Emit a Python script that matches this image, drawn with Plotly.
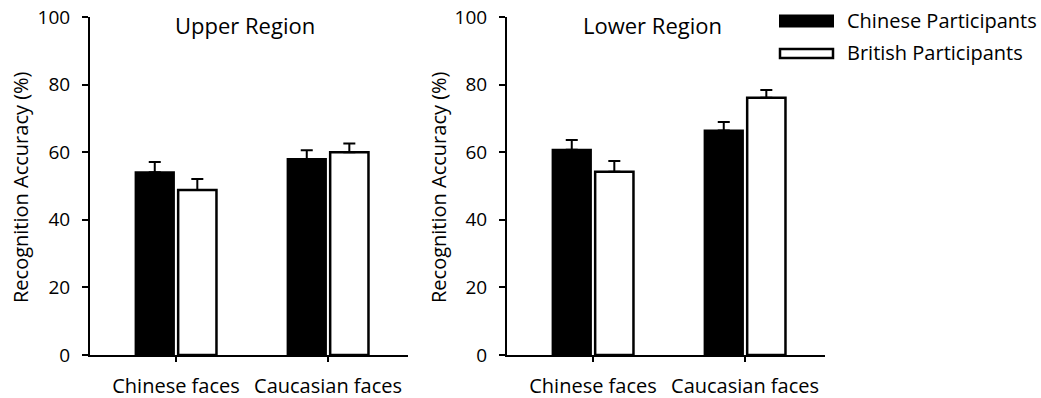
import plotly.graph_objects as go

categories = ["Chinese faces", "Caucasian faces"]
series_names = ["Chinese Participants", "British Participants"]

upper_chinese = [54.1, 58.0]
upper_chinese_err = [3.0, 2.6]
upper_british = [48.8, 60.0]
upper_british_err = [3.3, 2.6]

lower_chinese = [60.7, 66.4]
lower_chinese_err = [2.9, 2.5]
lower_british = [54.2, 76.1]
lower_british_err = [3.2, 2.3]

panel_titles = ["Upper Region", "Lower Region"]
y_title = "Recognition Accuracy (%)"
y_ticks = [0, 20, 40, 60, 80, 100]

W, H = 1041, 398
FONT = "Open Sans"
FS_YTICK = 19
FS_XTICK = 20
FS_TITLE = 22
FS_YT = 20
FS_LEG = 20

fig = go.Figure()

def px_x(v):
    return v / W

def px_y(v):
    return 1 - v / H

panels = [
    (upper_chinese, upper_chinese_err, upper_british, upper_british_err, "x", "y"),
    (lower_chinese, lower_chinese_err, lower_british, lower_british_err, "x2", "y2"),
]

for cv, ce, bv, be, xa, ya in panels:
    fig.add_trace(go.Bar(
        x=categories, y=cv, name=series_names[0], xaxis=xa, yaxis=ya,
        marker=dict(color="black", line=dict(color="black", width=2)),
        error_y=dict(type="data", symmetric=False, array=ce, arrayminus=[0] * len(ce),
                     color="black", thickness=2, width=6),
        showlegend=False,
    ))
    fig.add_trace(go.Bar(
        x=categories, y=bv, name=series_names[1], xaxis=xa, yaxis=ya,
        marker=dict(color="white", line=dict(color="black", width=2.5)),
        error_y=dict(type="data", symmetric=False, array=be, arrayminus=[0] * len(be),
                     color="black", thickness=2, width=6),
        showlegend=False,
    ))

x1_dom = [px_x(90), px_x(408)]
x2_dom = [px_x(507), px_x(825)]
y_dom = [px_y(355), px_y(17)]

common_x = dict(
    showline=True, linecolor="black", linewidth=2,
    ticks="outside", ticklen=5, tickwidth=2, tickcolor="black",
    showgrid=False, zeroline=False, automargin=False,
    tickfont=dict(family=FONT, size=FS_XTICK, color="black"),
    ticklabelstandoff=7,
    range=[-0.566, 1.526],
)
common_y = dict(
    showline=True, linecolor="black", linewidth=2,
    ticks="outside", ticklen=6, tickwidth=2, tickcolor="black",
    showgrid=False, zeroline=False, automargin=False,
    range=[0, 100], tickvals=y_ticks,
    tickfont=dict(family=FONT, size=FS_YTICK, color="black"),
    ticklabelstandoff=8,
)

fig.update_layout(
    width=W, height=H,
    margin=dict(l=0, r=0, t=0, b=0),
    paper_bgcolor="white", plot_bgcolor="white",
    barmode="group", bargap=0.44, bargroupgap=0.1,
    showlegend=False,
    xaxis=dict(domain=x1_dom, anchor="y", **common_x),
    yaxis=dict(domain=y_dom, anchor="x", **common_y),
    xaxis2=dict(domain=x2_dom, anchor="y2", **common_x),
    yaxis2=dict(domain=y_dom, anchor="x2", **common_y),
    font=dict(family=FONT, size=FS_YTICK, color="black"),
)

annotations = [
    dict(text=panel_titles[0], x=px_x(245), y=px_y(25), xref="paper", yref="paper",
         showarrow=False, xanchor="center", yanchor="middle", font=dict(family=FONT, size=FS_TITLE)),
    dict(text=panel_titles[1], x=px_x(652), y=px_y(25), xref="paper", yref="paper",
         showarrow=False, xanchor="center", yanchor="middle", font=dict(family=FONT, size=FS_TITLE)),
    dict(text=y_title, x=px_x(20), y=px_y(187), xref="paper", yref="paper", textangle=-90,
         showarrow=False, xanchor="center", yanchor="middle", font=dict(family=FONT, size=FS_YT)),
    dict(text=y_title, x=px_x(438), y=px_y(187), xref="paper", yref="paper", textangle=-90,
         showarrow=False, xanchor="center", yanchor="middle", font=dict(family=FONT, size=FS_YT)),
    dict(text=series_names[0], x=px_x(845), y=px_y(21), xref="paper", yref="paper",
         showarrow=False, xanchor="left", yanchor="middle", font=dict(family=FONT, size=FS_LEG)),
    dict(text=series_names[1], x=px_x(845), y=px_y(53), xref="paper", yref="paper",
         showarrow=False, xanchor="left", yanchor="middle", font=dict(family=FONT, size=FS_LEG)),
]
fig.update_layout(annotations=annotations)

shapes = [
    dict(type="rect", xref="paper", yref="paper", x0=px_x(780), x1=px_x(833),
         y0=px_y(26.5), y1=px_y(15.5), fillcolor="black", line=dict(color="black", width=2)),
    dict(type="rect", xref="paper", yref="paper", x0=px_x(780), x1=px_x(833),
         y0=px_y(58), y1=px_y(49), fillcolor="white", line=dict(color="black", width=2.5)),
]
fig.update_layout(shapes=shapes)

fig.write_html("out.html")
